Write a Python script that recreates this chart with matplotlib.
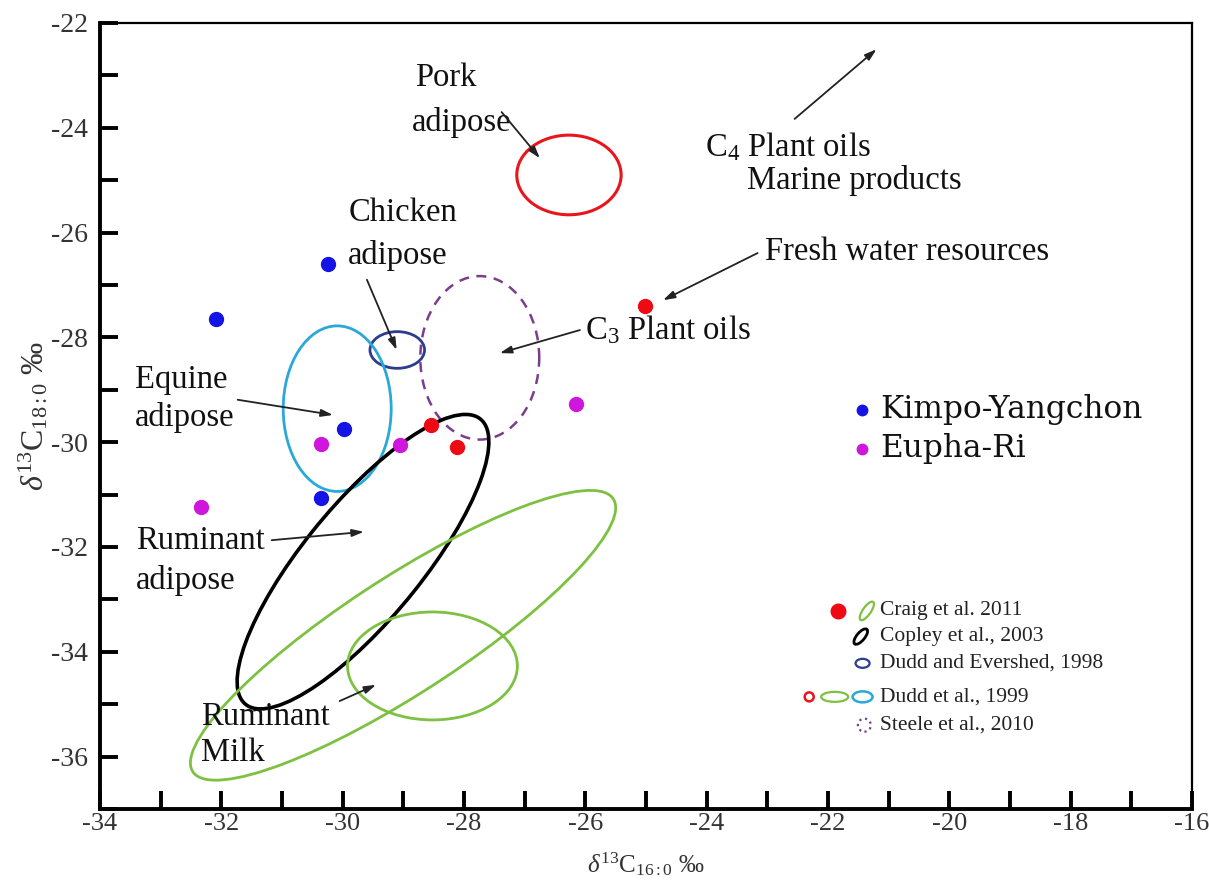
import matplotlib
matplotlib.use("Agg")
import matplotlib.pyplot as plt
import matplotlib.transforms as mtransforms
from matplotlib.patches import Ellipse
from matplotlib.ticker import MultipleLocator
import numpy as np

plt.rcParams["font.family"] = ["Liberation Serif", "DejaVu Serif"]
plt.rcParams["mathtext.fontset"] = "custom"
plt.rcParams["mathtext.rm"] = "Liberation Serif"
plt.rcParams["mathtext.it"] = "Liberation Serif:italic"
plt.rcParams["axes.unicode_minus"] = False

# sample points: d13C16:0, d13C18:0
kimpo_x = [-32.08, -30.24, -29.97, -30.36]
kimpo_y = [-27.64, -26.59, -29.75, -31.07]
eupha_x = [-32.34, -30.36, -29.06, -26.16]
eupha_y = [-31.23, -30.04, -30.05, -29.27]
craig_x = [-28.54, -28.11, -25.02]
craig_y = [-29.67, -30.09, -27.41]

# reference fields: centre, half range in x / y, phase (pi/2 = not tilted)
ref_cx = [-26.27, -29.10, -30.09, -27.74, -29.665, -29.005, -28.52]
ref_cy = [-24.90, -28.24, -29.36, -28.39, -32.28, -33.685, -34.27]
ref_hx = [0.86, 0.45, 0.89, 0.98, 2.075, 3.505, 1.40]
ref_hy = [0.76, 0.35, 1.58, 1.56, 2.81, 2.765, 1.03]
ref_phase = [np.pi / 2, np.pi / 2, np.pi / 2, np.pi / 2, 0.62, 0.494, np.pi / 2]
ref_color = ["#e8161c", "#2b3d8c", "#2aa8d8", "#7a3e8c", "black", "#7ec142", "#7ec142"]
ref_lw = [2.2, 2.0, 2.0, 1.8, 2.6, 2.0, 2.0]
ref_ls = ["-", "-", "-", (0, (4, 3)), "-", "-", "-"]

# annotation labels (text, x, y) and arrows (tail, head)
labels = [
    ("Pork", -28.81, -23.05), ("adipose", -28.86, -23.89),
    ("Chicken", -29.91, -25.63), ("adipose", -29.91, -26.43),
    ("Equine", -33.42, -28.81), ("adipose", -33.42, -29.52),
    ("Ruminant", -33.41, -31.89), ("adipose", -33.41, -32.63),
    ("Ruminant", -32.34, -35.23), ("Milk", -32.34, -35.93),
    ("C$_3$ Plant oils", -26.01, -27.86),
    ("C$_4$ Plant oils", -24.03, -24.36),
    ("Marine products", -23.34, -25.00),
    ("Fresh water resources", -23.04, -26.37),
]
arrows = [
    ((-27.38, -23.70), (-26.75, -24.58)),
    ((-22.55, -23.83), (-21.20, -22.50)),
    ((-23.16, -26.39), (-24.72, -27.29)),
    ((-26.09, -27.86), (-27.41, -28.30)),
    ((-29.60, -26.90), (-29.11, -28.24)),
    ((-31.73, -29.19), (-30.16, -29.48)),
    ((-31.17, -31.87), (-29.65, -31.71)),
    ((-30.05, -34.94), (-29.45, -34.63)),
]

ref_legend = ["Craig et al. 2011", "Copley et al., 2003", "Dudd and Evershed, 1998",
              "Dudd et al., 1999", "Steele et al., 2010"]
ref_legend_y = [-33.22, -33.71, -34.22, -34.86, -35.40]


def ref_ellipse(cx, cy, hx, hy, phase, **kw):
    m = np.array([[hx * hx, hx * hy * np.cos(phase)],
                  [hx * hy * np.cos(phase), hy * hy]])
    vals, vecs = np.linalg.eigh(m)
    ang = np.degrees(np.arctan2(vecs[1, 1], vecs[0, 1]))
    return Ellipse((cx, cy), 2 * np.sqrt(vals[1]), 2 * np.sqrt(vals[0]),
                   angle=ang, fill=False, **kw)


def icon(ax, x, y, w, h, ang, **kw):
    # small legend glyph, size in pixels
    tr = ax.figure.dpi_scale_trans + mtransforms.ScaledTranslation(x, y, ax.transData)
    ax.add_patch(Ellipse((0, 0), w / 100, h / 100, angle=ang, fill=False,
                         transform=tr, clip_on=False, **kw))


fig = plt.figure(figsize=(12.09, 8.83), dpi=100)
ax = fig.add_axes([100 / 1209, 74 / 883, 1092 / 1209, 786 / 883])

for i in range(len(ref_cx)):
    ax.add_patch(ref_ellipse(ref_cx[i], ref_cy[i], ref_hx[i], ref_hy[i], ref_phase[i],
                             edgecolor=ref_color[i], lw=ref_lw[i], ls=ref_ls[i]))

ax.scatter(kimpo_x, kimpo_y, s=100, color="#1414e6", zorder=5, label="Kimpo-Yangchon")
ax.scatter(eupha_x, eupha_y, s=100, color="#cf16dc", zorder=5, label="Eupha-Ri")
ax.scatter(craig_x, craig_y, s=100, color="#ee0a14", zorder=5)

for txt, x, y in labels:
    ax.text(x, y, txt, fontsize=23.5, ha="left", va="center", color="#111")
for tail, head in arrows:
    ax.annotate("", xy=head, xytext=tail,
                arrowprops=dict(arrowstyle="-|>,head_length=0.7,head_width=0.22",
                                color="#222", lw=1.3, shrinkA=0, shrinkB=0))

leg = ax.legend(loc="center left", bbox_to_anchor=(0.6905, 0.4835), frameon=False,
                prop={"family": "DejaVu Serif", "size": 22.5}, handlelength=0.5,
                handletextpad=0.33, labelspacing=0.25, borderpad=0, borderaxespad=0,
                scatterpoints=1, markerscale=0.75)
for t in leg.get_texts():
    t.set_color("#111")

# reference legend
for txt, y in zip(ref_legend, ref_legend_y):
    ax.text(-21.15, y, txt, fontsize=15.5, ha="left", va="center", color="#222")
ax.scatter([-21.84], [ref_legend_y[0]], s=110, color="#ee0a14", clip_on=False)
icon(ax, -21.36, ref_legend_y[0], 22, 8, 55, edgecolor="#7ec142", lw=1.6)
icon(ax, -21.46, ref_legend_y[1], 19, 8, 50, edgecolor="black", lw=2.0)
icon(ax, -21.43, ref_legend_y[2], 14, 9, 0, edgecolor="#2b3d8c", lw=1.6)
icon(ax, -22.31, ref_legend_y[3], 9, 9, 0, edgecolor="#e8161c", lw=1.8)
icon(ax, -21.89, ref_legend_y[3], 27, 10, 0, edgecolor="#7ec142", lw=1.6)
icon(ax, -21.43, ref_legend_y[3], 20, 11, 0, edgecolor="#2aa8d8", lw=1.8)
icon(ax, -21.40, ref_legend_y[4], 13, 13, 0, edgecolor="#7a3e8c", lw=1.6, ls=":")

ax.set_xlim(-34, -16)
ax.set_ylim(-37, -22)
ax.xaxis.set_major_locator(MultipleLocator(2))
ax.xaxis.set_minor_locator(MultipleLocator(1))
ax.yaxis.set_major_locator(MultipleLocator(2))
ax.yaxis.set_minor_locator(MultipleLocator(1))
ax.set_yticks(np.arange(-36, -21, 2))
ax.tick_params(which="both", direction="in", length=13, width=2.8, color="black",
               top=False, right=False)
ax.tick_params(axis="x", labelsize=19, labelcolor="#333", pad=3)
ax.tick_params(axis="y", labelsize=20, labelcolor="#333", pad=9)
for side in ["left", "bottom"]:
    ax.spines[side].set_linewidth(2.8)
for side in ["top", "right"]:
    ax.spines[side].set_linewidth(1.6)

ax.set_xlabel(r"$\delta^{13}\mathrm{C}_{16:0}$ ‰", fontsize=18, color="#333", labelpad=11)
ax.set_ylabel(r"$\delta^{13}\mathrm{C}_{18:0}$ ‰", fontsize=23, color="#333", labelpad=0)

fig.savefig("out.png", dpi=100)
